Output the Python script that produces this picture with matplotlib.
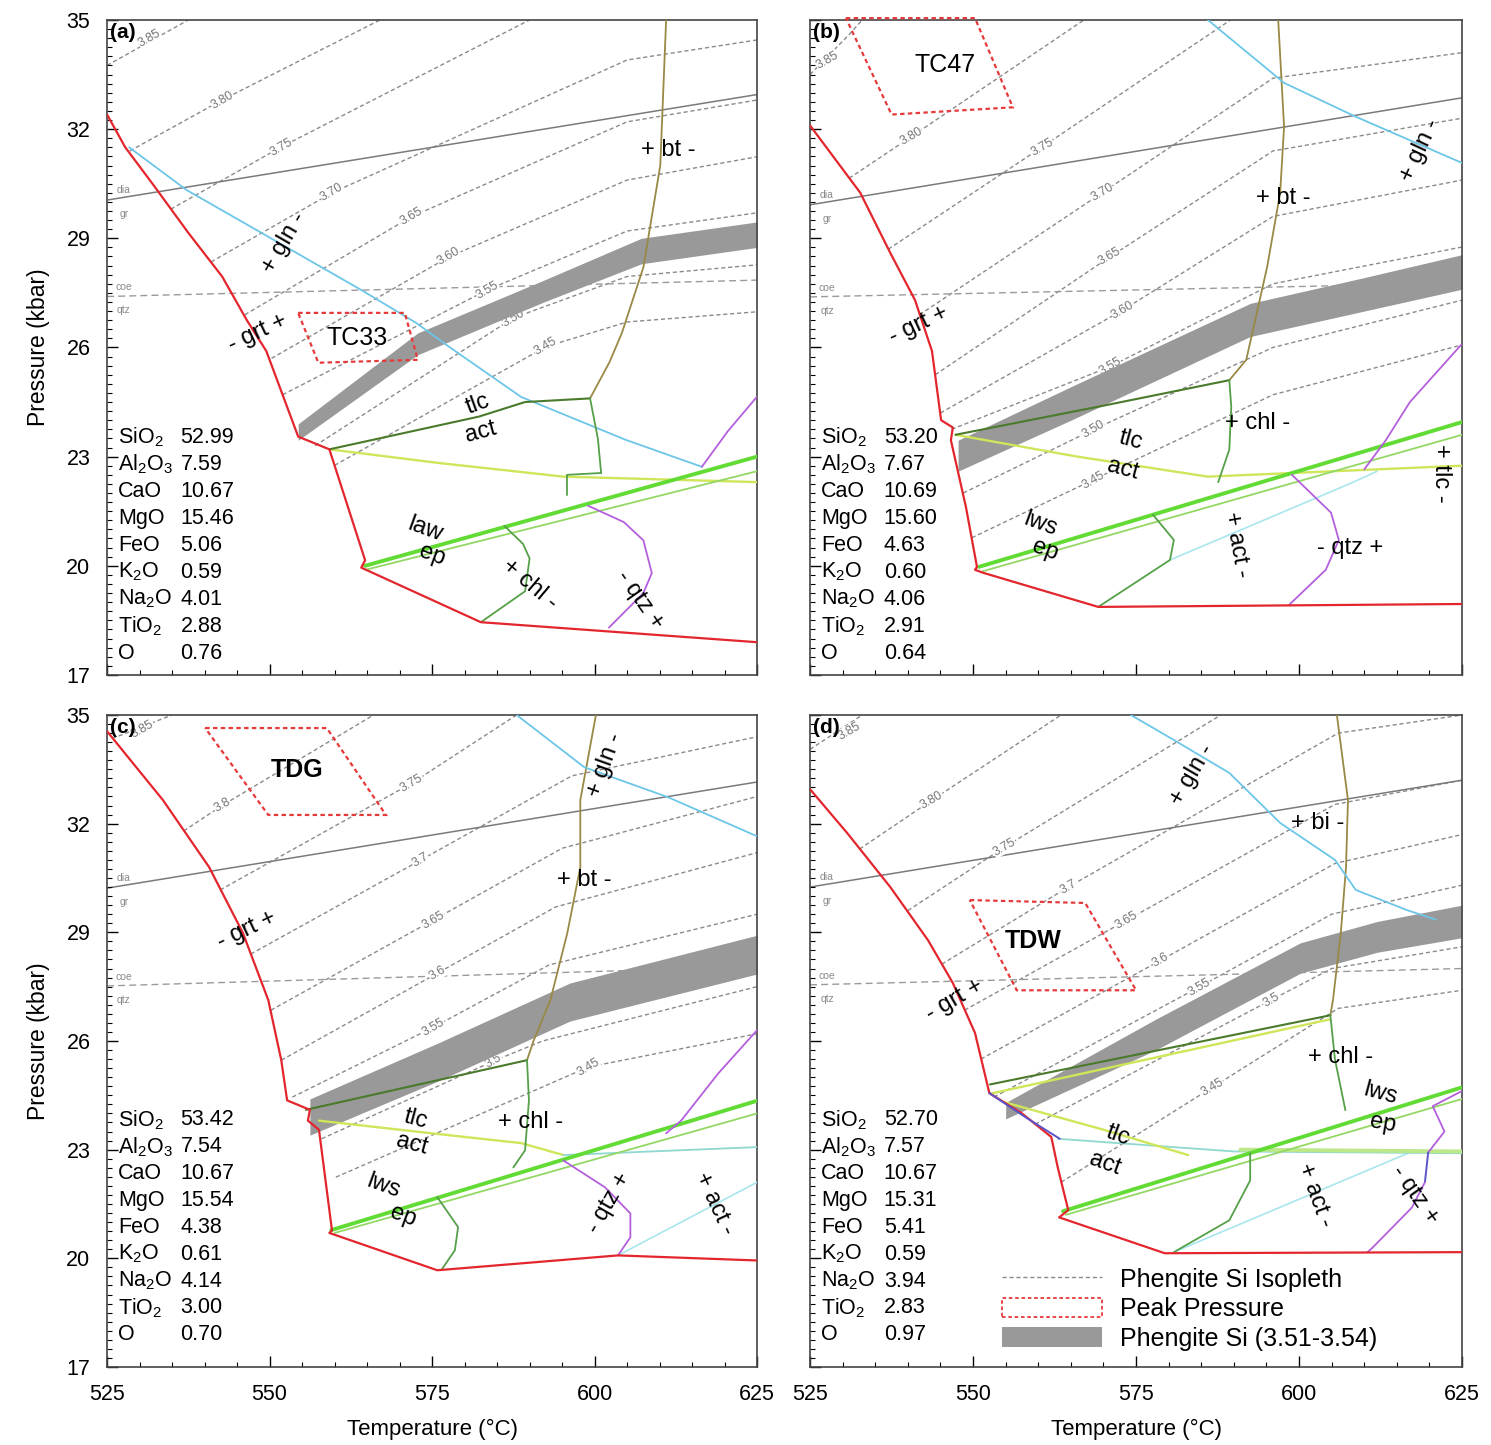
import matplotlib.pyplot as plt
import matplotlib.patches as mpatches
from matplotlib.lines import Line2D
from matplotlib.ticker import MultipleLocator, FixedLocator

plt.rcParams['font.family'] = ['Liberation Sans', 'DejaVu Sans']
plt.rcParams['mathtext.fontset'] = 'custom'
plt.rcParams['mathtext.rm'] = 'Liberation Sans'
plt.rcParams['mathtext.it'] = 'Liberation Sans'

# bulk compositions (wt%)
oxides = ['SiO$_2$', 'Al$_2$O$_3$', 'CaO', 'MgO', 'FeO', 'K$_2$O', 'Na$_2$O', 'TiO$_2$', 'O']
comp_a = ['52.99', '7.59', '10.67', '15.46', '5.06', '0.59', '4.01', '2.88', '0.76']
comp_b = ['53.20', '7.67', '10.69', '15.60', '4.63', '0.60', '4.06', '2.91', '0.64']
comp_c = ['53.42', '7.54', '10.67', '15.54', '4.38', '0.61', '4.14', '3.00', '0.70']
comp_d = ['52.70', '7.57', '10.67', '15.31', '5.41', '0.59', '3.94', '2.83', '0.97']

p_ticks = [17, 20, 23, 26, 29, 32, 35]
t_ticks = [525, 550, 575, 600, 625]

# ---------------- panel (a) : (T degC, P kbar) ----------------
a_grt = [(525.0, 32.4), (527.8, 31.5), (532.4, 30.4), (537.5, 29.15), (542.7, 27.95), (546.5, 26.75),
         (549.5, 25.9), (554.4, 23.55), (559.2, 23.2), (564.7, 20.15), (564.1, 19.95), (582.5, 18.45), (625.0, 17.9)]
a_bt = [(611.0, 35.0), (610.1, 31.0), (607.5, 28.2), (604.2, 26.4), (602.3, 25.6), (599.3, 24.6)]
a_gln = [(528.4, 31.5), (537.2, 30.33), (564.1, 27.58), (572.5, 26.68), (577.6, 26.02), (588.7, 24.64),
         (604.8, 23.46), (616.5, 22.72)]
a_tlc = [(559.2, 23.2), (572.0, 23.7), (582.2, 24.1), (589.3, 24.5), (599.3, 24.6)]
a_chl_up = [(599.3, 24.6), (600.5, 23.5), (601.0, 22.55)]
a_j1 = [(595.8, 22.5), (601.0, 22.55)]
a_j2 = [(595.8, 22.5), (595.8, 21.95)]
a_yg = [(559.2, 23.2), (575.8, 22.83), (595.2, 22.45), (625.0, 22.3)]
a_lws = [(564.7, 20.0), (625.0, 23.0)]
a_lws2 = [(565.0, 19.9), (625.0, 22.6)]
a_chl = [(586.1, 21.1), (589.0, 20.6), (590.0, 20.2), (589.3, 19.3), (582.5, 18.45)]
a_qtz1 = [(616.5, 22.72), (620.5, 23.7), (625.0, 24.65)]
a_qtz2 = [(599.0, 21.65), (604.5, 21.2), (607.5, 20.7), (608.8, 19.8), (607.5, 19.25), (602.2, 18.3)]
a_diagr = [(525.0, 30.05), (625.0, 32.95)]
a_coeqtz = [(525.0, 27.4), (625.0, 27.85)]
a_band_T = [554.4, 572.8, 592.2, 607.2, 625.0]
a_band_hi = [23.9, 26.4, 27.85, 29.0, 29.45]
a_band_lo = [23.45, 25.8, 27.25, 28.3, 28.75]
a_box = [(554.4, 26.95), (570.8, 26.95), (572.8, 25.66), (557.5, 25.58)]
a_iso = {
    '3.85': [(525.0, 33.75), (537.5, 35.0)],
    '3.80': [(528.5, 31.4), (542.7, 32.8), (567.0, 35.0)],
    '3.75': [(534.8, 29.8), (551.8, 31.51), (590.0, 35.0)],
    '3.70': [(541.0, 28.35), (559.6, 30.25), (605.0, 33.9), (625.0, 34.45)],
    '3.65': [(546.2, 26.9), (571.8, 29.59), (605.0, 32.2), (625.0, 32.8)],
    '3.60': [(550.3, 25.7), (577.6, 28.49), (605.0, 30.6), (625.0, 31.24)],
    '3.55': [(552.0, 24.7), (583.5, 27.58), (605.0, 29.2), (625.0, 29.7)],
    '3.50': [(557.0, 23.3), (587.5, 26.81), (605.0, 27.95), (625.0, 28.27)],
    '3.45': [(560.0, 22.76), (592.5, 26.02), (605.0, 26.7), (625.0, 26.98)],
}
a_iso_lab = {'3.85': (531.5, 34.5), '3.80': (542.7, 32.8), '3.75': (551.8, 31.51), '3.70': (559.6, 30.25),
             '3.65': (571.8, 29.59), '3.60': (577.6, 28.49), '3.55': (583.5, 27.58), '3.50': (587.5, 26.81),
             '3.45': (592.5, 26.02)}

# ---------------- panel (b) ----------------
b_grt = [(525.0, 32.1), (532.7, 30.25), (537.3, 28.6), (541.1, 27.3), (543.7, 25.9), (545.1, 24.0),
         (546.9, 23.8), (546.6, 23.45), (548.9, 21.62), (550.6, 19.97), (550.3, 19.89), (551.5, 19.81),
         (569.2, 18.87), (625.0, 18.95)]
b_bt = [(596.8, 35.0), (597.7, 32.06), (597.1, 30.25), (595.1, 28.21), (591.9, 25.66), (589.3, 25.1)]
b_gln = [(586.0, 35.0), (597.7, 33.27), (608.7, 32.34), (625.0, 31.07)]
b_tlc = [(547.3, 23.6), (570.0, 24.4), (589.3, 25.1)]
b_yg = [(547.3, 23.6), (566.0, 23.0), (586.0, 22.45), (625.0, 22.75)]
b_chl_up = [(589.3, 25.1), (589.6, 24.37), (589.3, 23.19), (587.6, 22.3)]
b_lws = [(550.9, 19.97), (625.0, 23.95)]
b_lws2 = [(551.5, 19.85), (625.0, 23.6)]
b_chl = [(577.6, 21.4), (580.8, 20.71), (580.2, 20.16), (569.2, 18.87)]
b_act = [(580.2, 20.16), (608.1, 22.28), (612.0, 22.6)]
b_qtz1 = [(625.0, 26.1), (617.0, 24.5), (613.3, 23.45), (610.0, 22.65)]
b_qtz2 = [(598.9, 22.5), (604.9, 21.46), (606.1, 20.71), (604.1, 19.89), (598.5, 18.93)]
b_diagr = [(525.0, 29.92), (625.0, 32.86)]
b_coeqtz = [(525.0, 27.39), (625.0, 27.77)]
b_band_T = [547.7, 565.0, 592.5, 610.0, 625.0]
b_band_hi = [23.45, 24.92, 27.21, 27.92, 28.55]
b_band_lo = [22.6, 24.0, 26.3, 27.0, 27.6]
b_box = [(530.5, 35.05), (550.3, 35.05), (556.1, 32.6), (537.5, 32.4)]
b_iso = {
    '3.85': [(525.0, 33.5), (531.0, 34.6), (533.0, 35.0)],
    '3.80': [(531.0, 30.65), (540.5, 31.79), (567.0, 35.0)],
    '3.75': [(537.0, 28.7), (560.6, 31.51), (589.5, 35.0)],
    '3.70': [(541.8, 26.9), (569.8, 30.25), (596.0, 33.4), (625.0, 34.1)],
    '3.65': [(544.2, 25.25), (571.0, 28.49), (596.0, 31.4), (625.0, 32.3)],
    '3.60': [(545.0, 24.2), (573.0, 27.03), (596.0, 29.6), (625.0, 30.6)],
    '3.55': [(546.7, 23.75), (571.0, 25.47), (596.0, 27.75), (625.0, 28.76)],
    '3.50': [(548.5, 22.0), (568.4, 23.74), (596.0, 26.0), (625.0, 27.3)],
    '3.45': [(549.8, 20.77), (568.4, 22.36), (596.0, 24.7), (625.0, 26.07)],
}
b_iso_lab = {'3.85': (527.6, 33.9), '3.80': (540.5, 31.79), '3.75': (560.6, 31.51), '3.70': (569.8, 30.25),
             '3.65': (571.0, 28.49), '3.60': (573.0, 27.03), '3.55': (571.0, 25.47), '3.50': (568.4, 23.74),
             '3.45': (568.4, 22.36)}

# ---------------- panel (c) ----------------
c_grt = [(525.0, 34.55), (533.6, 32.65), (540.7, 30.8), (545.9, 28.98), (549.8, 27.13), (551.8, 25.47),
         (552.7, 24.36), (556.2, 24.1), (555.9, 23.8), (557.6, 23.55), (559.6, 20.77), (559.2, 20.7),
         (575.8, 19.67), (603.6, 20.08), (625.0, 19.94)]
c_bt = [(600.2, 35.0), (597.8, 32.65), (597.8, 30.8), (595.8, 28.98), (593.2, 27.13), (590.6, 26.0), (589.6, 25.47)]
c_gln = [(588.0, 35.0), (598.4, 33.56), (611.3, 32.73), (625.0, 31.65)]
c_tlc = [(555.6, 24.1), (589.6, 25.47)]
c_yg = [(557.6, 23.8), (575.0, 23.45), (588.7, 23.18), (595.2, 22.85)]
c_teal = [(595.2, 22.85), (625.0, 23.07)]
c_chl_up = [(589.6, 25.47), (589.9, 24.36), (589.3, 22.98), (587.5, 22.51)]
c_lws = [(559.5, 20.78), (625.0, 24.35)]
c_lws2 = [(560.0, 20.7), (625.0, 24.0)]
c_chl = [(575.8, 21.69), (579.0, 20.86), (578.5, 20.22), (576.4, 19.67)]
c_act = [(603.6, 20.08), (625.0, 22.1)]
c_qtz1 = [(625.0, 26.3), (619.0, 25.1), (613.3, 23.8), (611.0, 23.45)]
c_qtz2 = [(595.2, 22.7), (601.6, 21.96), (605.5, 21.24), (605.5, 20.58), (603.6, 20.08)]
c_diagr = [(525.0, 30.22), (625.0, 33.15)]
c_coeqtz = [(525.0, 27.52), (625.0, 28.05)]
c_band_T = [556.2, 576.0, 596.2, 625.0]
c_band_hi = [24.4, 25.95, 27.6, 28.92]
c_band_lo = [23.4, 24.9, 26.55, 27.85]
c_box = [(540.1, 34.64), (558.8, 34.64), (567.9, 32.24), (549.8, 32.24)]
c_iso = {
    '3.85': [(525.8, 34.35), (535.0, 35.0)],
    '3.8': [(536.8, 31.8), (542.7, 32.5), (566.0, 35.0)],
    '3.75': [(542.4, 30.17), (571.9, 33.12), (588.0, 35.0)],
    '3.7': [(547.1, 28.4), (573.2, 30.99), (596.5, 33.32), (625.0, 34.4)],
    '3.65': [(550.2, 26.85), (575.2, 29.34), (595.0, 31.32), (625.0, 32.75)],
    '3.6': [(551.8, 25.47), (575.8, 27.87), (594.0, 29.7), (625.0, 31.2)],
    '3.55': [(553.5, 24.45), (575.2, 26.38), (593.0, 28.1), (625.0, 29.5)],
    '3.5': [(558.0, 23.3), (584.5, 25.45), (592.0, 26.0), (625.0, 27.5)],
    '3.45': [(560.2, 22.24), (599.0, 25.28), (625.0, 26.2)],
}
c_iso_lab = {'3.85': (530.5, 34.6), '3.8': (542.7, 32.5), '3.75': (571.9, 33.12), '3.7': (573.2, 30.99),
             '3.65': (575.2, 29.34), '3.6': (575.8, 27.87), '3.55': (575.2, 26.38), '3.5': (584.5, 25.45),
             '3.45': (599.0, 25.28)}

# ---------------- panel (d) ----------------
d_grt = [(525.0, 32.95), (530.7, 31.74), (537.3, 30.25), (543.1, 28.78), (546.9, 27.6), (550.3, 26.22),
         (552.5, 24.56), (557.5, 24.0), (562.0, 23.35), (563.0, 22.5), (564.6, 21.33), (563.2, 21.13),
         (579.4, 20.14), (625.0, 20.17)]
d_blue = [(552.5, 24.56), (558.0, 23.9), (563.3, 23.3)]
d_bt = [(605.8, 35.0), (607.5, 32.65), (607.2, 30.8), (606.4, 28.98), (605.2, 27.13), (604.8, 26.71)]
d_gln = [(574.2, 35.0), (580.8, 34.31), (589.3, 33.4), (597.1, 32.02), (605.5, 31.0), (608.7, 30.17),
         (616.6, 29.61), (621.0, 29.35)]
d_tlc = [(552.6, 24.8), (604.8, 26.71)]
d_tlc2 = [(552.8, 24.55), (604.8, 26.6)]
d_chl_up = [(604.8, 26.71), (605.5, 25.5), (607.1, 24.09)]
d_yg = [(555.0, 24.3), (570.0, 23.55), (583.0, 22.85)]
d_teal = [(563.0, 23.3), (590.0, 22.95), (625.0, 22.9)]
d_pale = [(591.0, 23.0), (625.0, 22.95)]
d_lws = [(563.8, 21.3), (625.0, 24.72)]
d_lws2 = [(564.2, 21.2), (625.0, 24.4)]
d_chl = [(592.5, 22.9), (592.5, 22.15), (589.3, 21.05), (580.8, 20.17)]
d_act = [(580.8, 20.17), (618.0, 23.0)]
d_qtz1 = [(625.0, 24.62), (620.5, 24.2), (622.3, 23.5), (619.8, 22.92)]
d_qtz_b = [(619.8, 22.92), (619.3, 22.1)]
d_qtz2 = [(619.3, 22.1), (617.3, 21.4), (611.3, 20.3), (610.5, 20.17)]
d_diagr = [(525.0, 30.25), (625.0, 33.2)]
d_coeqtz = [(525.0, 27.55), (625.0, 28.0)]
d_band_T = [555.0, 578.0, 600.2, 612.0, 625.0]
d_band_hi = [24.3, 26.6, 28.71, 29.3, 29.75]
d_band_lo = [23.85, 25.75, 27.87, 28.45, 28.85]
d_box = [(549.5, 29.89), (567.2, 29.81), (575.0, 27.4), (556.7, 27.4)]
d_iso = {
    '3.85': [(525.0, 34.05), (533.0, 35.0)],
    '3.80': [(532.6, 31.3), (543.7, 32.65), (563.5, 35.0)],
    '3.75': [(540.0, 29.6), (554.8, 31.35), (588.0, 35.0)],
    '3.7': [(545.2, 28.12), (564.6, 30.25), (606.0, 34.5), (625.0, 35.0)],
    '3.65': [(548.7, 26.85), (573.6, 29.34), (605.5, 32.53), (625.0, 33.2)],
    '3.6': [(551.2, 25.5), (578.8, 28.23), (605.5, 30.9), (625.0, 31.7)],
    '3.55': [(553.2, 24.45), (584.7, 27.49), (605.0, 29.5), (625.0, 30.3)],
    '3.5': [(559.5, 23.7), (595.7, 27.13), (605.0, 28.0), (625.0, 28.6)],
    '3.45': [(563.5, 22.1), (586.7, 24.72), (606.0, 26.9), (625.0, 27.4)],
}
d_iso_lab = {'3.85': (531.0, 34.55), '3.80': (543.7, 32.65), '3.75': (554.8, 31.35), '3.7': (564.6, 30.25),
             '3.65': (573.6, 29.34), '3.6': (578.8, 28.23), '3.55': (584.7, 27.49), '3.5': (595.7, 27.13),
             '3.45': (586.7, 24.72)}

# reaction / field labels: text, T, P, rotation
a_labels = [('+ bt -', 611.3, 31.43, 0), ('+ gln -', 552.2, 28.87, 60), ('- grt +', 548.2, 26.4, 25),
            ('tlc', 582.1, 24.45, 20), ('act', 582.5, 23.68, 15), ('law', 573.9, 20.99, -20),
            ('ep', 575.0, 20.3, -20), ('+ chl -', 590.1, 19.48, -40), ('- qtz +', 607.0, 19.07, -55)]
b_labels = [('- grt +', 541.6, 26.62, 25), ('+ bt -', 597.5, 30.11, 0), ('+ gln -', 618.6, 31.43, 65),
            ('+ chl -', 593.7, 23.93, 0), ('tlc', 574.2, 23.46, -15), ('act', 573.0, 22.64, -15),
            ('lws', 560.3, 21.13, -20), ('ep', 561.0, 20.44, -20), ('+ act -', 590.5, 20.58, -80),
            ('- qtz +', 607.8, 20.49, 0), ('+ tlc -', 621.8, 22.55, -90)]
c_labels = [('- grt +', 546.5, 29.06, 25), ('+ bt -', 598.4, 30.45, 0), ('+ gln -', 601.6, 33.62, 70),
            ('tlc', 572.5, 23.85, -15), ('act', 571.9, 23.15, -15), ('+ chl -', 590.1, 23.76, 0),
            ('lws', 567.5, 22.0, -20), ('ep', 570.5, 21.15, -20), ('- qtz +', 602.2, 21.52, 60),
            ('+ act -', 618.5, 21.52, -65)]
d_labels = [('+ gln -', 583.6, 33.34, 60), ('+ bi -', 602.9, 32.02, 0), ('- grt +', 547.2, 27.13, 30),
            ('+ chl -', 606.3, 25.55, 0), ('lws', 612.4, 24.56, -15), ('ep', 612.9, 23.73, -10),
            ('tlc', 572.2, 23.4, -20), ('act', 570.2, 22.62, -20), ('+ act -', 602.5, 21.74, -70),
            ('- qtz +', 617.8, 21.74, -55)]

# ---------------- styles ----------------
STY = {
    'grt': dict(color='#e3262d', lw=1.6),
    'bt': dict(color='#9a8845', lw=1.3),
    'gln': dict(color='#6cc6e8', lw=1.3),
    'tlc': dict(color='#4a7a2c', lw=1.5),
    'yg': dict(color='#cfe65a', lw=1.7),
    'teal': dict(color='#8fd8cf', lw=1.3),
    'pale': dict(color='#bde88a', lw=2.8),
    'lws': dict(color='#62dc35', lw=2.8),
    'lws2': dict(color='#93d865', lw=1.3),
    'chl': dict(color='#55a048', lw=1.3),
    'act': dict(color='#a8e6ee', lw=1.2),
    'qtz': dict(color='#b45fdc', lw=1.3),
    'blue': dict(color='#5a55c8', lw=1.4),
}
ISO_C = '#8a8a8a'
BAND_C = '#999999'
BOX_C = '#e63a3a'
BOX_LS = (0, (2, 1.5))
ISO_LS = (0, (3, 2))
LAB_FS = 17
COMP_FS = 15.5

panels = [
    dict(tag='(a)', pos=[0.0718, 0.5329, 0.4360, 0.4533], comp=comp_a, ctop=0.363, name='TC33', nbold=False,
         npos=(563.5, 26.25), box=a_box, band=(a_band_T, a_band_hi, a_band_lo), diagr=a_diagr, coeqtz=a_coeqtz,
         iso=a_iso, isolab=a_iso_lab, labels=a_labels,
         lines=[(a_bt, 'bt'), (a_gln, 'gln'), (a_yg, 'yg'), (a_tlc, 'tlc'), (a_chl_up, 'chl'), (a_j1, 'chl'),
                (a_j2, 'chl'), (a_lws2, 'lws2'), (a_lws, 'lws'), (a_chl, 'chl'), (a_qtz1, 'qtz'),
                (a_qtz2, 'qtz'), (a_grt, 'grt')]),
    dict(tag='(b)', pos=[0.5433, 0.5329, 0.4373, 0.4533], comp=comp_b, ctop=0.363, name='TC47', nbold=False,
         npos=(545.7, 33.76), box=b_box, band=(b_band_T, b_band_hi, b_band_lo), diagr=b_diagr, coeqtz=b_coeqtz,
         iso=b_iso, isolab=b_iso_lab, labels=b_labels,
         lines=[(b_bt, 'bt'), (b_gln, 'gln'), (b_act, 'act'), (b_yg, 'yg'), (b_tlc, 'tlc'), (b_chl_up, 'chl'),
                (b_lws2, 'lws2'), (b_lws, 'lws'), (b_chl, 'chl'), (b_qtz1, 'qtz'), (b_qtz2, 'qtz'),
                (b_grt, 'grt')]),
    dict(tag='(c)', pos=[0.0718, 0.0540, 0.4360, 0.4512], comp=comp_c, ctop=0.379, name='TDG', nbold=True,
         npos=(554.2, 33.48), box=c_box, band=(c_band_T, c_band_hi, c_band_lo), diagr=c_diagr, coeqtz=c_coeqtz,
         iso=c_iso, isolab=c_iso_lab, labels=c_labels,
         lines=[(c_bt, 'bt'), (c_gln, 'gln'), (c_act, 'act'), (c_yg, 'yg'), (c_teal, 'teal'), (c_tlc, 'tlc'),
                (c_chl_up, 'chl'), (c_lws2, 'lws2'), (c_lws, 'lws'), (c_chl, 'chl'), (c_qtz1, 'qtz'),
                (c_qtz2, 'qtz'), (c_grt, 'grt')]),
    dict(tag='(d)', pos=[0.5433, 0.0540, 0.4373, 0.4512], comp=comp_d, ctop=0.379, name='TDW', nbold=True,
         npos=(559.2, 28.75), box=d_box, band=(d_band_T, d_band_hi, d_band_lo), diagr=d_diagr, coeqtz=d_coeqtz,
         iso=d_iso, isolab=d_iso_lab, labels=d_labels,
         lines=[(d_bt, 'bt'), (d_gln, 'gln'), (d_act, 'act'), (d_teal, 'teal'), (d_pale, 'pale'), (d_yg, 'yg'),
                (d_tlc2, 'yg'), (d_tlc, 'tlc'), (d_chl_up, 'chl'), (d_lws2, 'lws2'), (d_lws, 'lws'),
                (d_chl, 'chl'), (d_qtz1, 'qtz'), (d_qtz_b, 'blue'), (d_qtz2, 'qtz'), (d_grt, 'grt'),
                (d_blue, 'blue')]),
]


def draw(ax, pts, **kw):
    T, P = zip(*pts)
    ax.plot(T, P, **kw)


fig = plt.figure(figsize=(14.91, 14.45), dpi=100)

for i, p in enumerate(panels):
    ax = fig.add_axes(p['pos'])
    ax.set_xlim(525, 625)
    ax.set_ylim(17, 35)

    # phengite Si isopleths
    for lab, pts in p['iso'].items():
        draw(ax, pts, color=ISO_C, lw=1.0, ls=ISO_LS, zorder=1)
        lx, ly = p['isolab'][lab]
        ax.text(lx, ly, lab, fontsize=9, color='#767676', rotation=30, ha='center', va='center', zorder=1.5,
                bbox=dict(facecolor='white', edgecolor='none', pad=0.3))

    # dia/gr and coe/qtz
    draw(ax, p['diagr'], color='#7a7a7a', lw=1.1, zorder=1.2)
    draw(ax, p['coeqtz'], color='#9a9a9a', lw=1.0, ls=(0, (5, 3)), zorder=1.2)
    d0, c0 = p['diagr'][0][1], p['coeqtz'][0][1]
    for txt, dy in (('dia', 0.28), ('gr', -0.38)):
        ax.text(527.6, d0 + dy, txt, fontsize=7.5, color='#8a8a8a', ha='center', va='center')
    for txt, dy in (('coe', 0.25), ('qtz', -0.38)):
        ax.text(527.6, c0 + dy, txt, fontsize=7.5, color='#8a8a8a', ha='center', va='center')

    # phengite Si band
    bT, bhi, blo = p['band']
    ax.fill_between(bT, blo, bhi, color=BAND_C, lw=0, zorder=2)

    # phase boundaries
    for pts, key in p['lines']:
        draw(ax, pts, zorder=3, solid_capstyle='round', **STY[key])

    # peak pressure box
    ax.add_patch(mpatches.Polygon(p['box'], closed=True, fill=False, edgecolor=BOX_C, lw=1.6,
                                  linestyle=BOX_LS, zorder=4, clip_on=False))
    ax.text(*p['npos'], p['name'], fontsize=18, ha='center', va='center', zorder=5,
            fontweight='bold' if p['nbold'] else 'normal')

    for txt, T, P, rot in p['labels']:
        ax.text(T, P, txt, fontsize=LAB_FS, rotation=rot, ha='center', va='center', zorder=5)

    ax.text(0.004, 0.996, p['tag'], transform=ax.transAxes, fontsize=15, fontweight='bold',
            ha='left', va='top', zorder=6)

    # bulk composition
    for k, (ox, val) in enumerate(zip(oxides, p['comp'])):
        y = p['ctop'] - k * 0.0412
        ax.text(0.017, y, ox, transform=ax.transAxes, fontsize=COMP_FS, va='center', ha='left', zorder=6)
        ax.text(0.113, y, val, transform=ax.transAxes, fontsize=COMP_FS, va='center', ha='left', zorder=6)

    # axes cosmetics
    ax.xaxis.set_major_locator(FixedLocator(t_ticks))
    ax.xaxis.set_minor_locator(MultipleLocator(5))
    ax.yaxis.set_major_locator(FixedLocator(p_ticks))
    ax.yaxis.set_minor_locator(MultipleLocator(0.25))
    ax.tick_params(which='major', direction='in', length=8, width=1.0, labelsize=15.5, pad=12)
    ax.tick_params(which='minor', direction='in', length=3.5, width=0.8)
    ax.tick_params(labelbottom=i >= 2, labelleft=i % 2 == 0)
    for s in ax.spines.values():
        s.set_color('#444444')
        s.set_linewidth(1.2)
    if i % 2 == 0:
        ax.set_ylabel('Pressure (kbar)', fontsize=16.5, labelpad=12)
    if i >= 2:
        ax.set_xlabel('Temperature (\u00b0C)', fontsize=16, labelpad=10)

    if i == 3:
        handles = [Line2D([], [], color=ISO_C, lw=1.0, ls=ISO_LS),
                   mpatches.Patch(facecolor='none', edgecolor=BOX_C, lw=1.3, linestyle=BOX_LS),
                   mpatches.Patch(facecolor=BAND_C, edgecolor='none')]
        ax.legend(handles, ['Phengite Si Isopleth', 'Peak Pressure', 'Phengite Si (3.51-3.54)'],
                  loc='lower left', bbox_to_anchor=(0.295, 0.025), frameon=False, fontsize=18,
                  handlelength=4.0, handleheight=0.85, labelspacing=0.22, handletextpad=0.7,
                  borderaxespad=0, borderpad=0)

fig.savefig('out.png', dpi=100)
